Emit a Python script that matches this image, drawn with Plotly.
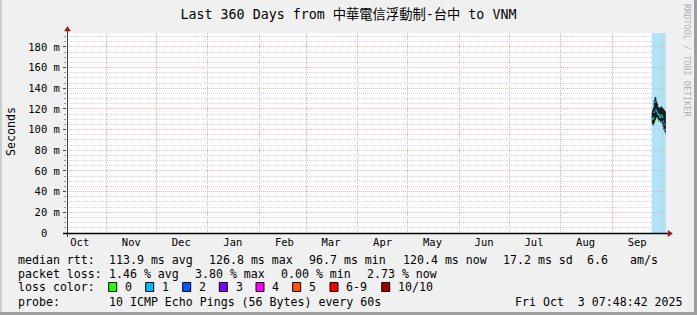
import plotly.graph_objects as go

# ---------------- data ----------------
x_start = "2024-10-08 07:48:42"
x_end = "2025-10-03 07:48:42"
y_max = 193.5

month_ticks = ["2024-10-16", "2024-11-16", "2024-12-16", "2025-01-16", "2025-02-16", "2025-03-16",
               "2025-04-16", "2025-05-16", "2025-06-16", "2025-07-16", "2025-08-16", "2025-09-16"]
month_labels = ["Oct", "Nov", "Dec", "Jan", "Feb", "Mar", "Apr", "May", "Jun", "Jul", "Aug", "Sep"]
month_starts = ["2024-11-01", "2024-12-01", "2025-01-01", "2025-02-01", "2025-03-01", "2025-04-01",
                "2025-05-01", "2025-06-01", "2025-07-01", "2025-08-01", "2025-09-01", "2025-10-01"]

y_ticks = [0, 20, 40, 60, 80, 100, 120, 140, 160, 180]
y_tick_labels = ["0<span style='color:rgba(0,0,0,0)'> m</span>", "20 m", "40 m", "60 m", "80 m",
                 "100 m", "120 m", "140 m", "160 m", "180 m"]

times = ["2025-09-24 18:00", "2025-09-25 06:00", "2025-09-25 18:00", "2025-09-26 06:00",
         "2025-09-26 18:00", "2025-09-27 06:00", "2025-09-27 18:00", "2025-09-28 06:00",
         "2025-09-28 18:00", "2025-09-29 06:00", "2025-09-29 18:00", "2025-09-30 06:00",
         "2025-09-30 18:00", "2025-10-01 06:00", "2025-10-01 18:00", "2025-10-02 06:00",
         "2025-10-02 18:00", "2025-10-03 06:00"]
smoke_low = [106, 104, 105, 107, 109, 111, 112, 110, 108, 109, 107, 108, 106, 103, 100, 98, 96, 95]
smoke_high = [116, 119, 121, 128, 131, 127, 125, 122, 121, 120, 121, 122, 121, 120, 119, 118, 116, 113]
median_rtt = [112, 110, 111, 117, 126.8, 119, 118, 116, 115, 114, 112, 113, 114, 112, 108, 105, 100, 96.7]
loss_count = [1, 1, 0, 1, 1, 1, 1, 1, 1, 0, 0, 1, 1, 1, 1, 1, 1, 1]

lossbg_from = ["2025-09-24 18:00"]
lossbg_to = ["2025-10-03 07:48:42"]
lossbg_level = [1]

loss_labels = ["0", "1", "2", "3", "4", "5", "6-9", "10/10"]
loss_colors = ["#26ff00", "#00b8ff", "#0059ff", "#7e00ff", "#ff00ff", "#ff5500", "#ff0000", "#a10000"]
loss_bg_colors = ["#bfffb3", "#abe6fd", "#b3cdff", "#d9b3ff", "#ffb3ff", "#ffccb3", "#ffb3b3", "#e3b3b3"]

title_text = "Last 360 Days from 中華電信浮動制-台中 to VNM"
stats_rtt = ["113.9 ms avg", "126.8 ms max", "96.7 ms min", "120.4 ms now", "17.2 ms sd", "6.6", "am/s"]
stats_loss = ["1.46 % avg", "3.80 % max", "0.00 % min", "2.73 % now"]
probe_text = "10 ICMP Echo Pings (56 Bytes) every 60s"
stamp_text = "Fri Oct\u00a0\u00a03 07:48:42 2025"

# ---------------- layout helpers ----------------
WIDTH, HEIGHT = 697, 315
L, R, T, B = 67, 666, 33, 233
PW, PH = R - L, B - T
MONO = "DejaVu Sans Mono"
TITLE_FONT = "DejaVu Sans Mono, Noto Sans CJK TC"
LEG_SIZE = 11.6


def px(x):
    return (x - L) / PW


def py(y):
    return 1 - (y - T) / PH


def loss_index(n):
    if n <= 5:
        return n
    if n < 10:
        return 6
    return 7


fig = go.Figure()

# loss background bands
for a, b, lv in zip(lossbg_from, lossbg_to, lossbg_level):
    fig.add_vrect(x0=a, x1=b, fillcolor=loss_bg_colors[loss_index(lv)], line_width=0,
                  layer="below", y0=0, y1=1)

# smoke
fig.add_trace(go.Scatter(x=times, y=smoke_low, mode="lines", line=dict(width=0, shape="hv", color="#222"),
                         hoverinfo="skip", showlegend=False))
fig.add_trace(go.Scatter(x=times, y=smoke_high, mode="lines", fill="tonexty", fillcolor="#1c1c1c",
                         line=dict(width=1, shape="hv", color="#1c1c1c"), showlegend=False))
# median colored by loss
fig.add_trace(go.Scatter(x=times, y=median_rtt, mode="markers",
                         marker=dict(symbol="square", size=1.6,
                                     color=[loss_colors[loss_index(n)] for n in loss_count],
                                     line=dict(width=0)),
                         showlegend=False))

grid_major = "#f2b0b0"
grid_minor = "#d6d6d6"

fig.update_xaxes(type="date", range=[x_start, x_end], tickmode="array", tickvals=month_ticks,
                 ticktext=month_labels, ticks="", showgrid=False, showline=False, zeroline=False,
                 tickfont=dict(family=MONO, size=10.5, color="#000"),
                 ticklabelstandoff=1,
                 minor=dict(tickmode="array", tickvals=month_starts, showgrid=True,
                            gridcolor=grid_major, griddash="1px,1px", gridwidth=1, ticks=""),
                 fixedrange=True)
fig.update_yaxes(range=[0, y_max], tickmode="array", tickvals=y_ticks, ticktext=y_tick_labels,
                 showgrid=True, gridcolor=grid_major, griddash="1px,1px", gridwidth=1,
                 ticks="outside", ticklen=3, tickcolor="#444", showline=False, zeroline=False,
                 tickfont=dict(family=MONO, size=10.5, color="#000"), ticklabelstandoff=1,
                 automargin=False,
                 minor=dict(dtick=5, tick0=0, showgrid=True, gridcolor=grid_minor, griddash="1px,1px",
                            ticks="outside", ticklen=2, tickcolor="#999"),
                 fixedrange=True)

shapes = []
# frame
shapes.append(dict(type="rect", xref="paper", yref="paper", x0=px(0), x1=px(WIDTH), y0=py(0), y1=py(2),
                   fillcolor="#cfcfcf", line_width=0))
shapes.append(dict(type="rect", xref="paper", yref="paper", x0=px(0), x1=px(2), y0=py(0), y1=py(HEIGHT),
                   fillcolor="#cfcfcf", line_width=0))
shapes.append(dict(type="rect", xref="paper", yref="paper", x0=px(WIDTH - 3), x1=px(WIDTH), y0=py(0),
                   y1=py(HEIGHT), fillcolor="#9e9e9e", line_width=0))
shapes.append(dict(type="rect", xref="paper", yref="paper", x0=px(0), x1=px(WIDTH), y0=py(HEIGHT - 3),
                   y1=py(HEIGHT), fillcolor="#9e9e9e", line_width=0))
# axes lines
shapes.append(dict(type="line", xref="paper", yref="paper", x0=px(67.5), x1=px(67.5), y0=py(237), y1=py(30),
                   line=dict(color="#404040", width=1)))
shapes.append(dict(type="line", xref="paper", yref="paper", x0=px(63), x1=px(668), y0=py(233.5), y1=py(233.5),
                   line=dict(color="#000000", width=1.5)))
# arrows
ac = "#9a1a1a"
shapes.append(dict(type="path", xref="paper", yref="paper",
                   path=f"M {px(64.5)} {py(31)} L {px(70.5)} {py(31)} L {px(67.5)} {py(26.5)} Z",
                   fillcolor=ac, line=dict(color=ac, width=0.5)))
shapes.append(dict(type="path", xref="paper", yref="paper",
                   path=f"M {px(668)} {py(230.5)} L {px(668)} {py(236.5)} L {px(672.5)} {py(233.5)} Z",
                   fillcolor=ac, line=dict(color=ac, width=0.5)))

annotations = []


def txt(x, y, s, size=LEG_SIZE, color="#000", xanchor="left", angle=0, family=MONO):
    annotations.append(dict(x=px(x), y=py(y), xref="paper", yref="paper", text=s, showarrow=False,
                            xanchor=xanchor, yanchor="middle", textangle=angle,
                            font=dict(family=family, size=size, color=color)))


# y axis title
txt(11, 132, "Seconds", xanchor="center", angle=-90)
# vertical credit
txt(687, 60, "RRDTOOL / TOBI OETIKER", size=8.5, color="#b0b0b0", xanchor="center", angle=90)

# legend rows
row1_x = [107, 207, 307, 400.5, 500.5, 585, 628]
row2_x = [107, 193, 279, 365]
txt(16, 259.5, "median rtt:")
for xx, s in zip(row1_x, stats_rtt):
    txt(xx, 259.5, s)
txt(16, 273.5, "packet loss:")
for xx, s in zip(row2_x, stats_loss):
    txt(xx, 273.5, s)
txt(16, 287, "loss color:")
box_x = [108.7, 145.7, 182.7, 219.3, 256, 292.7, 330, 381.7]
for bx, lab, col in zip(box_x, loss_labels, loss_colors):
    shapes.append(dict(type="rect", xref="paper", yref="paper", x0=px(bx), x1=px(bx + 8), y0=py(291.5),
                       y1=py(282.5), fillcolor=col, line=dict(color="#000", width=1)))
    txt(bx + 14.3, 287, lab)
txt(16, 301.5, "probe:")
txt(107, 301.5, probe_text)
txt(513.3, 301.5, stamp_text)

fig.update_layout(
    width=WIDTH, height=HEIGHT,
    margin=dict(l=L, r=WIDTH - R, t=T, b=HEIGHT - B, autoexpand=False),
    paper_bgcolor="#f0f0f0", plot_bgcolor="#ffffff",
    title=dict(text=title_text, x=0.5, xref="container", xanchor="center",
               y=1 - 14.5 / HEIGHT, yref="container", yanchor="middle",
               font=dict(family=TITLE_FONT, size=13.3, color="#000")),
    shapes=shapes, annotations=annotations, showlegend=False,
)

fig.write_html("out.html", config={"displayModeBar": False})
